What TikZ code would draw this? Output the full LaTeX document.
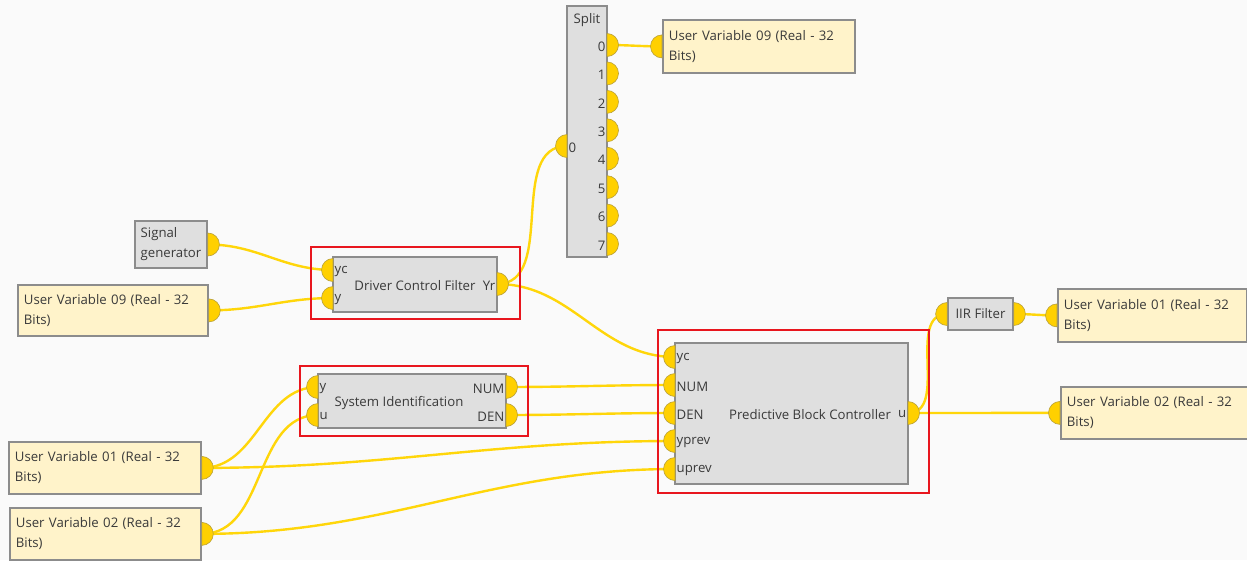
\documentclass[tikz,border=0pt]{standalone}
\usepackage{fontspec}
\setmainfont{Open Sans}
\usetikzlibrary{positioning,calc}
\pgfdeclarelayer{bg}
\pgfsetlayers{bg,main}
\usepackage{xcolor}
\definecolor{canvas}{HTML}{FAFAFA}
\definecolor{wireyellow}{HTML}{FFD60A}
\definecolor{portfill}{HTML}{FFD000}
\definecolor{portedge}{HTML}{B8A03A}
\definecolor{edgegray}{HTML}{8C8C8C}
\definecolor{blockgray}{HTML}{DFDFDF}
\definecolor{uvyellow}{HTML}{FFF3CA}
\definecolor{hired}{HTML}{E8161E}
\definecolor{txtgray}{HTML}{3A3A3A}

\newcommand{\portout}[2]{\coordinate (#1) at (#2);
  \draw[port] ([yshift=-11.5pt]#1) arc[start angle=-90, end angle=90, radius=11.5pt] -- cycle;}
\newcommand{\portin}[2]{\coordinate (#1) at (#2);
  \draw[port] ([yshift=11.5pt]#1) arc[start angle=90, end angle=270, radius=11.5pt] -- cycle;}

\begin{document}
\begin{tikzpicture}[
  x=1pt, y=-1pt,
  font=\fontsize{13.2}{20}\selectfont, text=txtgray,
  block/.style={draw=edgegray, fill=blockgray, line width=1.8pt, inner sep=0pt},
  uvar/.style={draw=edgegray, fill=uvyellow, line width=1.8pt, align=left, text width=180pt,
    inner xsep=6pt, inner ysep=0pt, minimum height=53pt, anchor=north west},
  port/.style={draw=portedge, fill=portfill, line width=0.6pt},
  pinlbl/.style={inner sep=1.5pt, yshift=-1.5pt},
  wire/.style={draw=wireyellow, line width=2.4pt, out=0, in=180},
  hilite/.style={draw=hired, line width=2.6pt, inner sep=0pt}
]

\begin{pgfonlayer}{bg}
\fill[canvas] (0,0) rectangle (1247,560);
\end{pgfonlayer}
\useasboundingbox (0,0) rectangle (1247,560);

\node[block, minimum width=40pt, minimum height=251pt] (split) at (587,131.5) {};
\node[inner sep=0pt] (split-title) at (587,20) {Split};
\node[uvar] (uv09t) at (662,19) {User Variable 09 (Real - 32\\Bits)};

\node[block, minimum width=72pt, minimum height=47pt, align=left] (siggen) at (171,244.5) {Signal\\generator};
\node[uvar, text width=178pt, minimum height=51pt] (uv09l) at (17,284) {User Variable 09 (Real - 32\\Bits)};
\node[block, minimum width=164pt, minimum height=55pt] (dcf) at (415,284.5) {};
\node[inner sep=0pt] (dcf-title) at (415,285.5) {Driver Control Filter};

\node[block, minimum width=188pt, minimum height=54pt] (sid) at (412,401) {};
\node[inner sep=0pt] (sid-title) at (399,403) {System Identification};

\node[block, minimum width=233pt, minimum height=141pt] (pbc) at (791.5,413.5) {};
\node[inner sep=0pt] (pbc-title) at (810,415) {Predictive Block Controller};

\node[block, minimum width=65pt, minimum height=32pt] (iir) at (980.5,314) {IIR Filter};
\node[uvar, text width=177pt] (uv01r) at (1057,288) {User Variable 01 (Real - 32\\Bits)};
\node[uvar, text width=175pt, minimum height=52pt] (uv02r) at (1060,386) {User Variable 02 (Real - 32\\Bits)};

\node[uvar, minimum height=52pt] (uv01l) at (8,441) {User Variable 01 (Real - 32\\Bits)};
\node[uvar, text width=179pt, minimum height=52pt] (uv02l) at (9,507) {User Variable 02 (Real - 32\\Bits)};

\portin{split-in}{567,146}
\node[pinlbl, anchor=west] (split-lin) at (split-in) {0};
\foreach \i in {0,...,7} {
  \portout{split-o\i}{607,{45+28.43*\i}}
  \node[pinlbl, anchor=east] (split-l\i) at (split-o\i) {\i};
}
\portin{uv09t-in}{uv09t.west}

\portout{sg-out}{siggen.east}
\portout{uv09l-out}{uv09l.east}
\portin{dcf-yc}{333,270}
\portin{dcf-y}{333,298}
\portout{dcf-out}{497,284}
\node[pinlbl, anchor=west] (dcf-lyc) at (dcf-yc) {yc};
\node[pinlbl, anchor=west] (dcf-ly) at (dcf-y) {y};
\node[pinlbl, anchor=east] (dcf-lyr) at (dcf-out) {Yr};

\portin{sid-y}{318,387}
\portin{sid-u}{318,415}
\portout{sid-num}{506,387}
\portout{sid-den}{506,415}
\node[pinlbl, anchor=west] (sid-ly) at (sid-y) {y};
\node[pinlbl, anchor=west] (sid-lu) at (sid-u) {u};
\node[pinlbl, anchor=east] (sid-lnum) at (sid-num) {NUM};
\node[pinlbl, anchor=east] (sid-lden) at (sid-den) {DEN};

\portin{pbc-yc}{675,357}
\portin{pbc-num}{675,385}
\portin{pbc-den}{675,413}
\portin{pbc-yprev}{675,441}
\portin{pbc-uprev}{675,469}
\portout{pbc-out}{908,413}
\node[pinlbl, anchor=west] (pbc-lyc) at (pbc-yc) {yc};
\node[pinlbl, anchor=west] (pbc-lnum) at (pbc-num) {NUM};
\node[pinlbl, anchor=west] (pbc-lden) at (pbc-den) {DEN};
\node[pinlbl, anchor=west] (pbc-lyprev) at (pbc-yprev) {yprev};
\node[pinlbl, anchor=west] (pbc-luprev) at (pbc-uprev) {uprev};
\node[pinlbl, anchor=east] (pbc-lu) at (pbc-out) {u};

\portin{iir-in}{iir.west}
\portout{iir-out}{iir.east}
\portin{uv01r-in}{uv01r.west}
\portin{uv02r-in}{uv02r.west}
\portout{uv01l-out}{uv01l.east}
\portout{uv02l-out}{uv02l.east}

\begin{pgfonlayer}{bg}
\draw[wire] (split-o0) to (uv09t-in);
\draw[wire] (sg-out) to (dcf-yc);
\draw[wire] (uv09l-out) to (dcf-y);
\draw[wire] (dcf-out) to (split-in);
\draw[wire] (dcf-out) to (pbc-yc);
\draw[wire] (uv01l-out) to (sid-y);
\draw[wire] (uv01l-out) to (pbc-yprev);
\draw[wire] (uv02l-out) to (sid-u);
\draw[wire] (uv02l-out) to (pbc-uprev);
\draw[wire] (sid-num) to (pbc-num);
\draw[wire] (sid-den) to (pbc-den);
\draw[wire] (pbc-out) to (iir-in);
\draw[wire] (pbc-out) to (uv02r-in);
\draw[wire] (iir-out) to (uv01r-in);
\end{pgfonlayer}

\node[hilite, minimum width=209pt, minimum height=72pt] (dcf-frame) at (415.5,283) {};
\node[hilite, minimum width=228pt, minimum height=70pt] (sid-frame) at (414,401) {};
\node[hilite, minimum width=271pt, minimum height=163pt] (pbc-frame) at (793.5,411.5) {};

\end{tikzpicture}
\end{document}
